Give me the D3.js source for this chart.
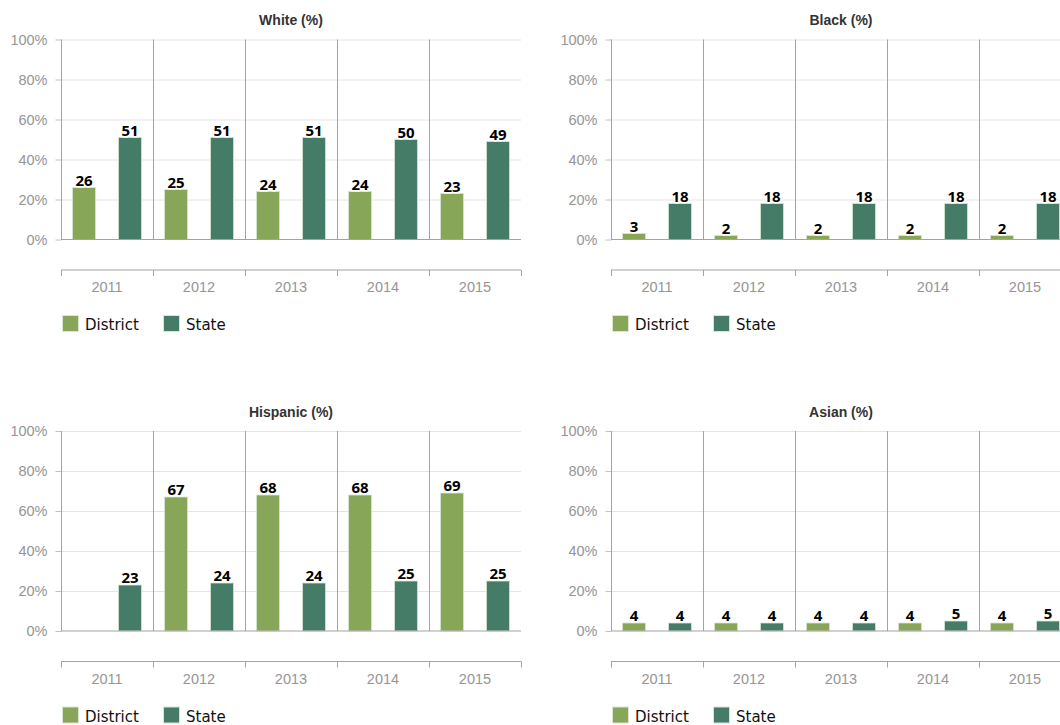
<!DOCTYPE html>
<html>
<head>
<meta charset="utf-8">
<script src="https://cdn.jsdelivr.net/npm/d3@7"></script>
<style>
  html, body { margin: 0; padding: 0; background: #fff; }
  svg { display: block; }
</style>
</head>
<body>
<svg id="chart" width="1060" height="725"></svg>
<script>
// Enrollment share by race/ethnicity, district vs state, 2011–2015
const years = ["2011", "2012", "2013", "2014", "2015"];
const seriesNames = ["District", "State"];
const panelTitles = ["White (%)", "Black (%)", "Hispanic (%)", "Asian (%)"];

const whiteDistrict = [26, 25, 24, 24, 23];
const whiteState = [51, 51, 51, 50, 49];
const blackDistrict = [3, 2, 2, 2, 2];
const blackState = [18, 18, 18, 18, 18];
const hispanicDistrict = [0, 67, 68, 68, 69];
const hispanicState = [23, 24, 24, 25, 25];
const asianDistrict = [4, 4, 4, 4, 4];
const asianState = [4, 4, 4, 5, 5];

const yTicks = [0, 20, 40, 60, 80, 100];
const colors = { District: "#87a657", State: "#457c68" };

const panels = [
  { title: panelTitles[0], District: whiteDistrict, State: whiteState },
  { title: panelTitles[1], District: blackDistrict, State: blackState },
  { title: panelTitles[2], District: hispanicDistrict, State: hispanicState },
  { title: panelTitles[3], District: asianDistrict, State: asianState }
];

const plotW = 460, plotH = 200;
const colStep = 550, rowStep = 391.5;
const origin = { x: 61, y: 39.5 };

const svg = d3.select("#chart");

const x = d3.scaleBand().domain(years).range([0, plotW]);
const xs = d3.scaleBand().domain(seriesNames).range([0, x.bandwidth()])
  .paddingInner(0.5).paddingOuter(0.25);
const y = d3.scaleLinear().domain([0, 100]).range([plotH, 0]);

panels.forEach((p, i) => {
  const col = i % 2, row = Math.floor(i / 2);
  const g = svg.append("g")
    .attr("transform", `translate(${origin.x + col * colStep},${origin.y + row * rowStep})`);

  // title
  g.append("text")
    .attr("x", plotW / 2).attr("y", -14.5)
    .attr("text-anchor", "middle")
    .style("font-family", "'Liberation Sans', Arial, sans-serif")
    .style("font-weight", "bold").style("font-size", "14px")
    .style("fill", "#333")
    .text(p.title);

  // horizontal gridlines
  g.append("g").selectAll("line").data(yTicks.filter(t => t > 0)).join("line")
    .attr("x1", 0).attr("x2", plotW)
    .attr("y1", d => Math.round(y(d)) + 0.5).attr("y2", d => Math.round(y(d)) + 0.5)
    .attr("stroke", "#e4e4e4").attr("stroke-width", 1);

  // y axis
  const yAxis = d3.axisLeft(y).tickValues(yTicks).tickFormat(d => d + "%")
    .tickSize(6).tickPadding(8);
  const ya = g.append("g").attr("transform", "translate(0.5,0)").call(yAxis);
  ya.select(".domain").remove();
  ya.selectAll(".tick line").attr("stroke", "#c0c0c0");
  ya.selectAll(".tick text")
    .style("font-family", "'Liberation Sans', Arial, sans-serif")
    .style("font-size", "14.5px").style("fill", "#959595");

  // category separators and left axis line
  g.append("g").selectAll("line").data(years).join("line")
    .attr("x1", d => Math.round(x(d)) + 0.5).attr("x2", d => Math.round(x(d)) + 0.5)
    .attr("y1", 0).attr("y2", plotH)
    .attr("stroke", "#a3a3a3").attr("stroke-width", 1);

  // bars
  const rows = years.map((yr, k) => ({ year: yr, vals: seriesNames.map(s => ({ s, v: p[s][k] })) }));
  const groups = g.append("g").selectAll("g").data(rows).join("g")
    .attr("transform", d => `translate(${x(d.year)},0)`);

  groups.selectAll("rect").data(d => d.vals).join("rect")
    .attr("x", d => xs(d.s))
    .attr("y", d => y(d.v))
    .attr("width", xs.bandwidth())
    .attr("height", d => y(0) - y(d.v))
    .attr("fill", d => colors[d.s])
    .attr("stroke", "#d9e6d3").attr("stroke-width", 1).attr("stroke-opacity", 0.8);

  groups.selectAll("text").data(d => d.vals.filter(v => v.v > 0)).join("text")
    .attr("x", d => xs(d.s) + xs.bandwidth() / 2)
    .attr("y", d => y(d.v) - 2)
    .attr("text-anchor", "middle")
    .style("font-family", "'Open Sans', 'DejaVu Sans', sans-serif")
    .style("font-weight", "bold").style("font-size", "15px")
    .style("fill", "#000")
    .style("stroke", "#fff").style("stroke-width", "3px")
    .style("paint-order", "stroke").style("stroke-linejoin", "round")
    .text(d => d.v);

  // baseline
  g.append("line")
    .attr("x1", 0).attr("x2", plotW)
    .attr("y1", plotH).attr("y2", plotH)
    .attr("stroke", "#a3a3a3").attr("stroke-width", 1);

  // category axis below the plot
  const axG = g.append("g").attr("transform", `translate(0,${plotH + 30.5})`);
  axG.append("line").attr("x1", 0).attr("x2", plotW).attr("y1", 0).attr("y2", 0)
    .attr("stroke", "#a3a3a3");
  axG.selectAll("line.tk").data(years.map(d => x(d)).concat([plotW])).join("line")
    .attr("class", "tk")
    .attr("x1", d => Math.round(d) + 0.5).attr("x2", d => Math.round(d) + 0.5)
    .attr("y1", 0).attr("y2", 6)
    .attr("stroke", "#a3a3a3");
  axG.selectAll("text").data(years).join("text")
    .attr("x", d => x(d) + x.bandwidth() / 2)
    .attr("y", 22)
    .attr("text-anchor", "middle")
    .style("font-family", "'Liberation Sans', Arial, sans-serif")
    .style("font-size", "14.5px").style("fill", "#959595")
    .text(d => d);

  // legend
  const lg = g.append("g").attr("transform", `translate(0,${plotH + 75.5})`);
  const items = lg.selectAll("g").data(seriesNames).join("g")
    .attr("transform", (d, k) => `translate(${k * 101},0)`);
  items.append("rect")
    .attr("x", 1.5).attr("y", 0.5).attr("width", 16).attr("height", 16)
    .attr("fill", d => colors[d])
    .attr("stroke", "#d9e6d3").attr("stroke-width", 1);
  items.append("text")
    .attr("x", 24).attr("y", 15)
    .style("font-family", "'DejaVu Sans', Verdana, sans-serif")
    .style("font-size", "15px").style("fill", "#111")
    .text(d => d);
});
</script>
</body>
</html>
